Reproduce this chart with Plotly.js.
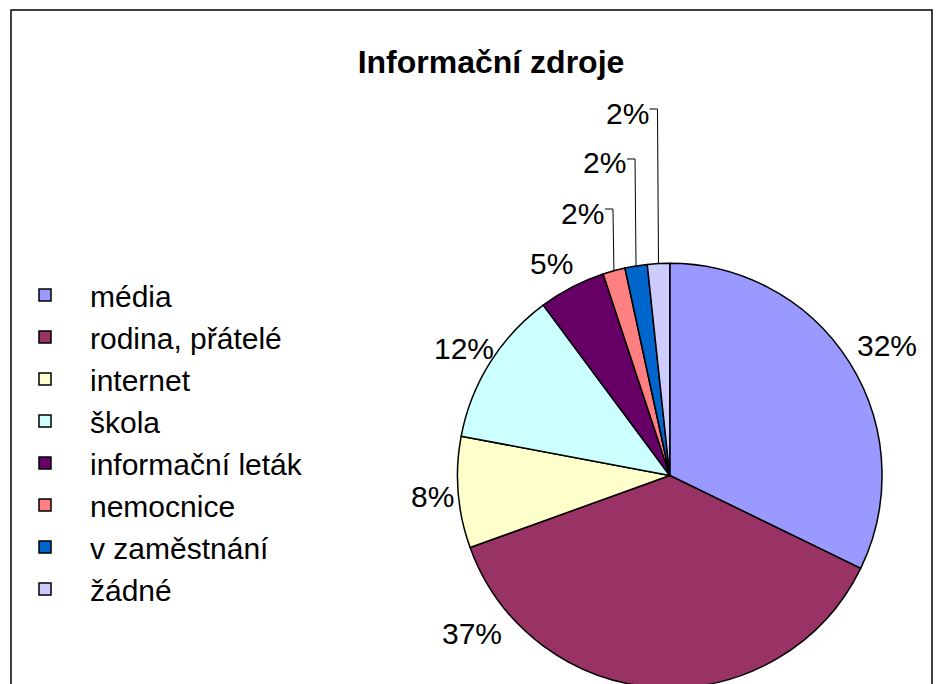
<!DOCTYPE html>
<html>
<head>
<meta charset="utf-8">
<script src="https://cdn.plot.ly/plotly-3.0.1.min.js"></script>
<style>
html, body { margin:0; padding:0; overflow:hidden; background:#fff; }
#chart { width:942px; height:720px; }
</style>
</head>
<body>
<div id="chart"></div>
<script>
// ---- data ----
const categories = ["média", "rodina, přátelé", "internet", "škola", "informační leták", "nemocnice", "v zaměstnání", "žádné"];
const counts = [19, 22, 5, 7, 3, 1, 1, 1];
const colors = ["#9999FF", "#993366", "#FFFFCC", "#CCFFFF", "#660066", "#FF8080", "#0066CC", "#CCCCFF"];
const chartTitle = "Informační zdroje";

// ---- layout geometry ----
const W = 942, H = 720;
const cx = 669.5, cy = 475.5, R = 212.5;   // pie centre / radius in px (from top-left)
const FONT = "Liberation Sans, Arial, sans-serif";
// label placement (px, centre of text) for the large slices
const labelPos = { 0: [887, 345], 1: [472, 633], 2: [432, 496], 3: [463, 348], 4: [551, 263] };
// slices labelled with elbow leader lines: y of horizontal part
const leaderY = { 5: 209, 6: 159, 7: 109 };

const total = counts.reduce((a, b) => a + b, 0);
const pctText = v => Math.round(v / total * 100) + "%";

const px = x => x / W;
const py = y => 1 - y / H;

const shapes = [{
  type: "rect", xref: "paper", yref: "paper",
  x0: px(10), x1: px(932), y0: py(H + 20), y1: py(10),
  line: { color: "#000", width: 1.5 }, fillcolor: "rgba(0,0,0,0)"
}];
const annotations = [];
const labelFont = { family: FONT, size: 30, color: "#000" };

let cum = 0;
counts.forEach((v, i) => {
  const a0 = cum / total * 2 * Math.PI;
  cum += v;
  const a1 = cum / total * 2 * Math.PI;
  if (labelPos[i]) {
    annotations.push({
      xref: "paper", yref: "paper", x: px(labelPos[i][0]), y: py(labelPos[i][1]),
      xanchor: "center", yanchor: "middle", showarrow: false,
      text: pctText(v), font: labelFont
    });
    return;
  }
  const mid = (a0 + a1) / 2;
  const ex = cx + R * Math.sin(mid), ey = cy - R * Math.cos(mid);
  const ly = leaderY[i];
  const elbowX = ex - 1;
  const labelRight = elbowX - 8;
  shapes.push({
    type: "path", xref: "paper", yref: "paper",
    path: `M${px(labelRight)},${py(ly)} L${px(elbowX)},${py(ly)} L${px(ex)},${py(ey)}`,
    line: { color: "#000", width: 1 }
  });
  annotations.push({
    xref: "paper", yref: "paper", x: px(labelRight + 1), y: py(ly + 4),
    xanchor: "right", yanchor: "middle", showarrow: false,
    text: pctText(v), font: labelFont
  });
});

const trace = {
  type: "pie",
  labels: categories,
  values: counts,
  sort: false,
  direction: "clockwise",
  rotation: 0,
  marker: { colors: colors, line: { color: "#000", width: 1.5 } },
  textinfo: "none",
  domain: { x: [px(cx - R), px(cx + R)], y: [py(cy + R), py(cy - R)] },
  hoverinfo: "label+percent"
};

const layout = {
  width: W, height: H,
  margin: { l: 0, r: 0, t: 0, b: 0 },
  paper_bgcolor: "#fff",
  title: {
    text: "<b>" + chartTitle + "</b>",
    font: { family: FONT, size: 32, color: "#000" },
    x: px(491), xanchor: "center", y: py(62), yanchor: "middle"
  },
  showlegend: true,
  legend: {
    x: px(-1), y: py(269), xanchor: "left", yanchor: "top",
    font: { family: FONT, size: 30, color: "#000" },
    itemwidth: 80, bgcolor: "rgba(0,0,0,0)", traceorder: "normal"
  },
  shapes: shapes,
  annotations: annotations
};

Plotly.newPlot("chart", [trace], layout, { staticPlot: true });
</script>
</body>
</html>
